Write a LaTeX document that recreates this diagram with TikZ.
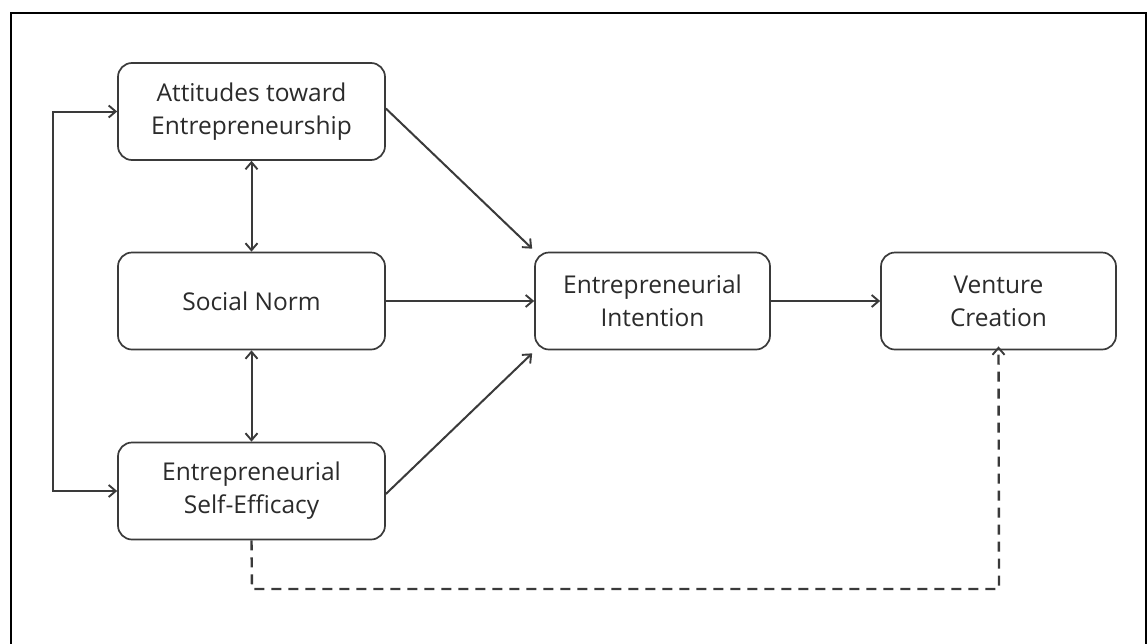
\documentclass[tikz,border=0pt]{standalone}
\usepackage{fontspec}
\setmainfont{Open Sans}
\usetikzlibrary{arrows.meta}
\definecolor{ink}{HTML}{2B2B2B}
\definecolor{edge}{HTML}{3A3A3A}
\begin{document}
\begin{tikzpicture}[x=1pt,y=-1pt,
  box/.style={draw=edge, line width=1.7pt, rounded corners=14pt, minimum height=97pt,
    align=center, text=ink, font=\fontsize{24.5}{33}\selectfont, inner sep=0pt},
  wide/.style={box, minimum width=267pt},
  mid/.style={box, minimum width=235pt},
  tip/.style={Straight Barb[length=7pt,width=12pt,line width=1.9pt]},
  link/.style={draw=edge, line width=2pt, -{Straight Barb[length=7pt,width=12pt,line width=1.9pt]}},
  both/.style={link, {Straight Barb[length=7pt,width=12pt,line width=1.9pt]}-{Straight Barb[length=7pt,width=12pt,line width=1.9pt]}},
  dashlink/.style={link, line width=2.4pt, dash pattern=on 10pt off 7pt}]
\useasboundingbox (0,0) rectangle (1148,643);
\fill[white] (0,0) rectangle (1148,643);
% outer frame
\draw[black, line width=1.8pt] (11,660) -- (11,13) -- (1146,13) -- (1146,660);

\node[wide] (att) at (251.5,111.5) {Attitudes toward\\Entrepreneurship};
\node[wide] (sn)  at (251.5,301) {Social Norm};
\node[wide] (ese) at (251.5,491) {Entrepreneurial\\Self-Efficacy};
\node[mid]  (ei)  at (652.5,301) {Entrepreneurial\\Intention};
\node[mid]  (vc)  at (998.5,301) {Venture\\Creation};

\coordinate (lt) at (53,111.5);
\coordinate (lb) at (53,491);
\coordinate (dl) at (252,589);
\coordinate (dr) at (999,589);

% correlations among the antecedents
\draw[both] (att.south) -- (sn.north);
\draw[both] (sn.south) -- (ese.north);
\draw[link] (lb) -- (lt) -- (att.west);
\draw[link] (lt) -- (lb) -- (ese.west);

% paths to intention and behaviour
\draw[link] ([yshift=3pt]att.east) -- ([xshift=-2pt,yshift=3pt]ei.north west);
\draw[link] (sn.east) -- (ei.west);
\draw[link] ([yshift=-3pt]ese.east) -- ([xshift=-2pt,yshift=-3pt]ei.south west);
\draw[link] (ei.east) -- (vc.west);
\draw[dashlink] (ese.south) -- (dl) -- (dr) -- ([yshift=4pt]vc.south);
\end{tikzpicture}
\end{document}
